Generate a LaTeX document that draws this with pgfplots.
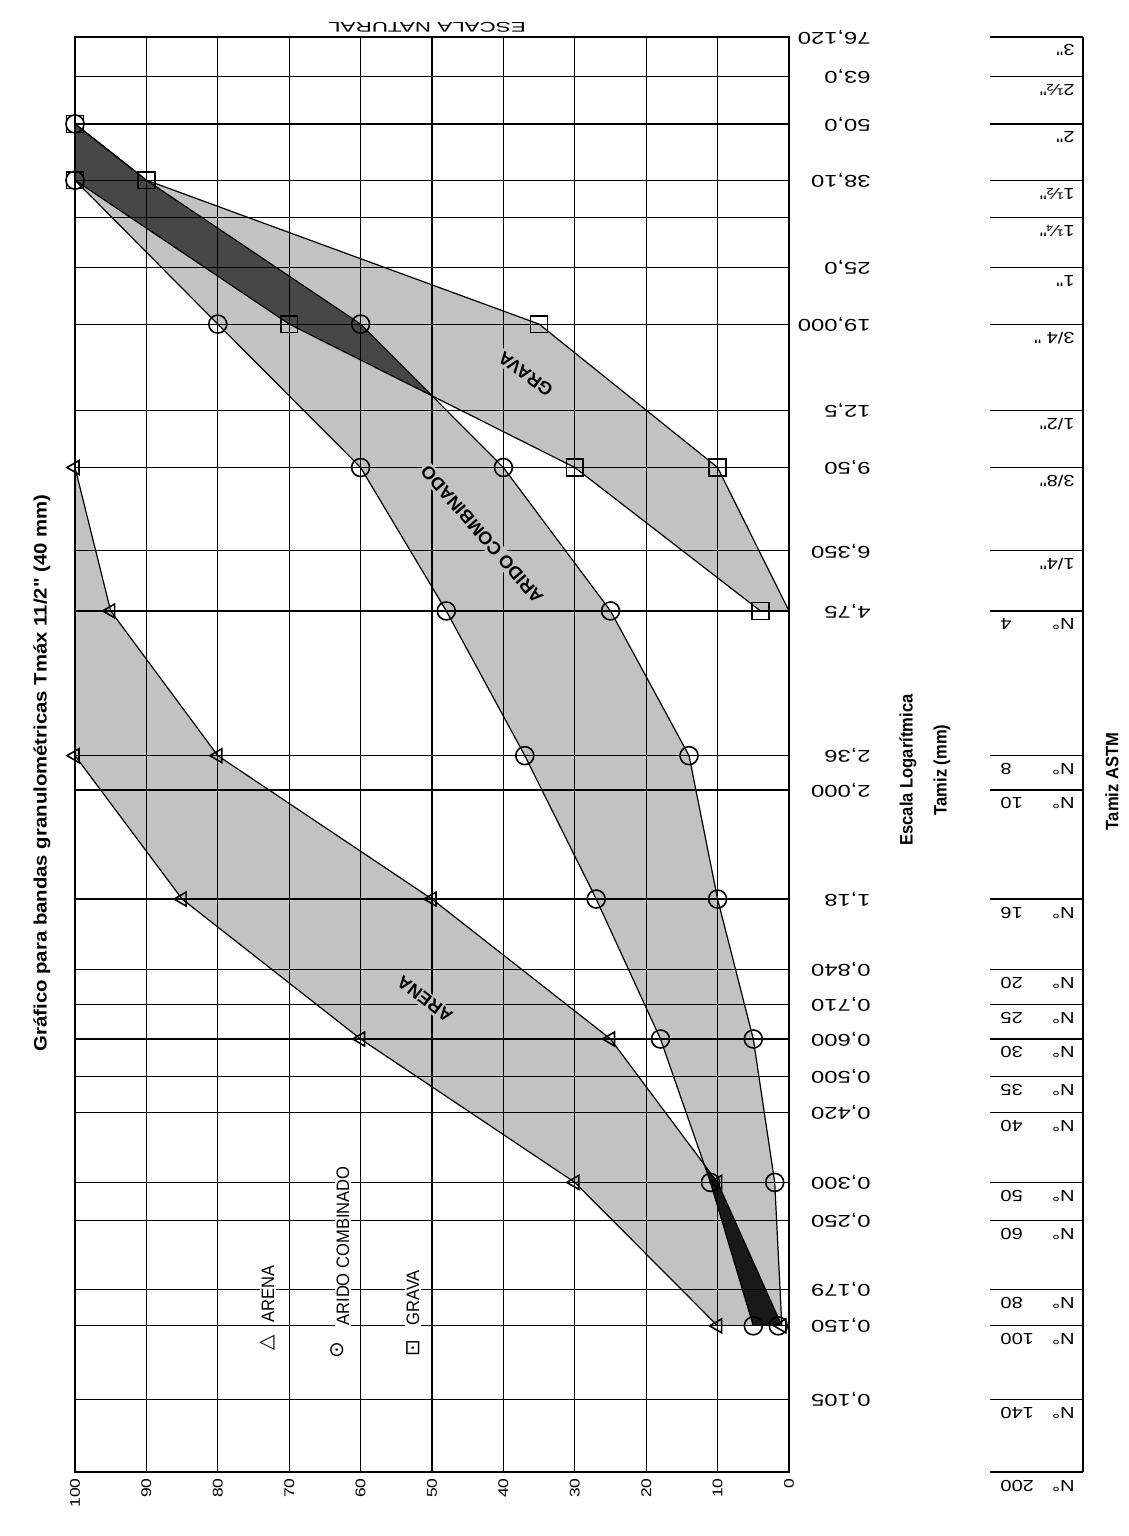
\documentclass[border=0pt]{standalone}
\usepackage{pgfplots}
\pgfplotsset{compat=1.18}
\usepackage{fontspec}
\setmainfont{Liberation Sans}
\newfontfamily\wideA[FakeStretch=1.4]{Liberation Sans}
\newfontfamily\wideB[FakeStretch=1.6]{Liberation Sans}
\newfontfamily\wideC[FakeStretch=1.25]{Liberation Sans}
\newfontfamily\condB[FakeStretch=0.92]{Liberation Sans}
\newfontfamily\titlef[FakeStretch=1.13]{Liberation Sans}
\newfontfamily\dejavu{DejaVu Sans}
\definecolor{band}{gray}{0.76}
\definecolor{darkA}{gray}{0.28}
\definecolor{darkB}{gray}{0.10}

\newcommand\astm[3][0.6pt]{%
  \draw[line width=#1] ([xshift=100.5pt]axis cs:0,#2) -- ([xshift=147pt]axis cs:0,#2);
  \node[rotate=180, anchor=base west, inner sep=0pt, font=\wideC\fontsize{8}{9}\selectfont] at ([xshift=143pt,yshift=-4pt]axis cs:0,#2) {#3};}
\newcommand\nlab[1]{\makebox[37pt]{N°\hfill #1}}

\begin{document}
\begin{tikzpicture}
\useasboundingbox (0,0) rectangle (564.5pt,768pt);
\begin{axis}[
  at={(37.5pt,32pt)}, anchor=south west,
  scale only axis, width=357pt, height=717.5pt,
  xmin=0, xmax=100, x dir=reverse,
  ymode=log, ymin=0.074, ymax=76.12,
  xtick={0,10,...,100},
  xticklabels={0,10,20,30,40,50,60,70,80,90,100},
  xticklabel style={rotate=90, anchor=east, inner sep=0pt, font=\wideC\fontsize{7}{8}\selectfont},
  xticklabel shift=3pt,
  ytick={0.105,0.15,0.179,0.25,0.3,0.42,0.5,0.6,0.71,0.84,1.18,2,2.36,4.75,6.35,9.5,12.5,19,25,31.75,38.1,50,63,76.12},
  yticklabels={{0,105},{0,150},{0,179},{0,250},{0,300},{0,420},{0,500},{0,600},{0,710},{0,840},{1,18},{2,000},{2,36},{4,75},{6,350},{9,50},{12,5},{19,000},{25,0},{},{38,10},{50,0},{63,0},{76,120}},
  yticklabel pos=right,
  yticklabel style={rotate=180, anchor=west, inner sep=0pt, font=\wideA\fontsize{8.5}{9}\selectfont},
  yticklabel shift=41pt,
  grid=major, grid style={black, line width=0.6pt},
  major tick length=0pt,
  axis line style={line width=1.4pt},
  axis on top,
  clip=false,
  /pgf/number format/assume math mode=true,
]
% ---- band fills ----
% GRAVA
\addplot[draw=none, fill=band] coordinates {(100,50)(100,38.1)(70,19)(30,9.5)(4,4.75)(0,4.75)(10,9.5)(35,19)(90,38.1)(100,50)} -- cycle;
% ARIDO COMBINADO
\addplot[draw=none, fill=band] coordinates {(100,50)(100,38.1)(80,19)(60,9.5)(48,4.75)(37,2.36)(27,1.18)(18,0.6)(11,0.3)(5,0.15)(1,0.15)(2,0.3)(5,0.6)(10,1.18)(14,2.36)(25,4.75)(40,9.5)(60,19)(90,38.1)(100,50)} -- cycle;
% ARENA
\addplot[draw=none, fill=band] coordinates {(100,9.5)(100,4.75)(100,2.36)(85,1.18)(60,0.6)(30,0.3)(10,0.15)(1,0.15)(10,0.3)(25,0.6)(50,1.18)(80,2.36)(95,4.75)(100,9.5)} -- cycle;
% overlaps
\addplot[draw=none, fill=darkA] coordinates {(100,50)(100,38.1)(70,19)(50,13.435)(60,19)(90,38.1)(100,50)} -- cycle;
\addplot[draw=none, fill=darkB] coordinates {(11.875,0.32715)(11,0.3)(5,0.15)(1,0.15)(10,0.3)(11.875,0.32715)} -- cycle;
% ---- limit lines ----
\addplot[black, line width=0.6pt] coordinates {(100,9.5)(100,4.75)(100,2.36)(85,1.18)(60,0.6)(30,0.3)(10,0.15)};
\addplot[black, line width=0.6pt] coordinates {(100,9.5)(95,4.75)(80,2.36)(50,1.18)(25,0.6)(10,0.3)(1,0.15)};
\addplot[black, line width=0.6pt] coordinates {(100,50)(100,38.1)(80,19)(60,9.5)(48,4.75)(37,2.36)(27,1.18)(18,0.6)(11,0.3)(5,0.15)};
\addplot[black, line width=0.6pt] coordinates {(100,50)(90,38.1)(60,19)(40,9.5)(25,4.75)(14,2.36)(10,1.18)(5,0.6)(2,0.3)(1,0.15)};
\addplot[black, line width=0.6pt] coordinates {(100,50)(100,38.1)(70,19)(30,9.5)(4,4.75)};
\addplot[black, line width=0.6pt] coordinates {(100,50)(90,38.1)(35,19)(10,9.5)(0,4.75)};
% ---- marks ----
\addplot[only marks, mark=triangle, mark size=4pt, mark options={rotate=90, black, line width=0.8pt}] coordinates {(100,9.5)(95,4.75)(100,2.36)(80,2.36)(85,1.18)(50,1.18)(60,0.6)(25,0.6)(30,0.3)(10,0.3)(10,0.15)(1,0.15)};
\addplot[only marks, mark=o, mark size=4.5pt, mark options={black, line width=0.8pt}] coordinates {(100,50)(100,38.1)(80,19)(60,19)(60,9.5)(40,9.5)(48,4.75)(25,4.75)(37,2.36)(14,2.36)(27,1.18)(10,1.18)(18,0.6)(5,0.6)(11,0.3)(2,0.3)(5,0.15)(1.5,0.15)};
\addplot[only marks, mark=square, mark size=4.2pt, mark options={black, line width=0.8pt}] coordinates {(100,50)(100,38.1)(90,38.1)(70,19)(35,19)(30,9.5)(10,9.5)(4,4.75)};
% ---- ASTM scale ----
\draw[line width=0.8pt] ([xshift=147pt]axis cs:0,76.12) -- ([xshift=147pt]axis cs:0,0.074);
\astm[1.2pt]{76.12}{3"}
\astm{63}{2½"}
\astm{50}{2"}
\astm{38.1}{1½"}
\astm{31.75}{1¼"}
\astm{25}{1"}
\astm{19}{3/4 "}
\astm{12.5}{1/2"}
\astm{9.5}{3/8"}
\astm{6.35}{1/4"}
\astm{4.75}{\nlab{4}}
\astm{2.36}{\nlab{8}}
\astm{2}{\nlab{10}}
\astm{1.18}{\nlab{16}}
\astm{0.84}{\nlab{20}}
\astm{0.71}{\nlab{25}}
\astm{0.6}{\nlab{30}}
\astm{0.5}{\nlab{35}}
\astm{0.42}{\nlab{40}}
\astm{0.3}{\nlab{50}}
\astm{0.25}{\nlab{60}}
\astm{0.179}{\nlab{80}}
\astm{0.15}{\nlab{100}}
\astm{0.105}{\nlab{140}}
\astm[1.4pt]{0.074}{\nlab{200}}
% coordinates for band labels
\coordinate (lgrava) at (axis cs:36.9,14.9);
\coordinate (lcomb) at (axis cs:43,6.87);
\coordinate (larena) at (axis cs:51,0.727);
\end{axis}
% band labels
\node[rotate=143.5, fill=band, inner sep=1pt, font=\bfseries\fontsize{9}{10}\selectfont] at (lgrava) {GRAVA};
\node[rotate=131, fill=band, inner sep=1pt, font=\bfseries\fontsize{9}{10}\selectfont] at (lcomb) {ARIDO COMBINADO};
\node[rotate=143, fill=band, inner sep=1pt, font=\bfseries\fontsize{9}{10}\selectfont] at (larena) {ARENA};
% legend
\node[rotate=90, anchor=west, fill=white, inner sep=1pt, font=\condB\fontsize{9}{10}\selectfont] at (134pt,105.5pt) {ARENA};
\node[rotate=90, inner sep=0pt, font=\dejavu\fontsize{10}{10}\selectfont] at (133.5pt,96.5pt) {△};
\node[rotate=90, anchor=west, fill=white, inner sep=1pt, font=\condB\fontsize{9}{10}\selectfont] at (171.5pt,104pt) {ARIDO COMBINADO};
\node[rotate=90, inner sep=0pt, font=\dejavu\fontsize{10}{10}\selectfont] at (168.5pt,93pt) {⊙};
\node[rotate=90, anchor=west, fill=white, inner sep=1pt, font=\condB\fontsize{9}{10}\selectfont] at (206.5pt,104pt) {GRAVA};
\node[rotate=90, inner sep=0pt, font=\dejavu\fontsize{10}{10}\selectfont] at (206.5pt,94pt) {⊡};
% titles
\node[rotate=90, font=\titlef\bfseries\fontsize{9}{10}\selectfont] at (21pt,381.5pt) {Gráfico para bandas granulométricas Tmáx 11/2" (40 mm)};
\node[rotate=180, font=\wideB\fontsize{7}{8}\selectfont] at (213.5pt,754.5pt) {ESCALA NATURAL};
\node[rotate=90, font=\condB\bfseries\fontsize{9}{10}\selectfont] at (454pt,383pt) {Escala Logarítmica};
\node[rotate=90, font=\condB\bfseries\fontsize{9}{10}\selectfont] at (471pt,383pt) {Tamiz (mm)};
\node[rotate=90, font=\condB\bfseries\fontsize{9}{10}\selectfont] at (556pt,377.25pt) {Tamiz ASTM};
\end{tikzpicture}
\end{document}
